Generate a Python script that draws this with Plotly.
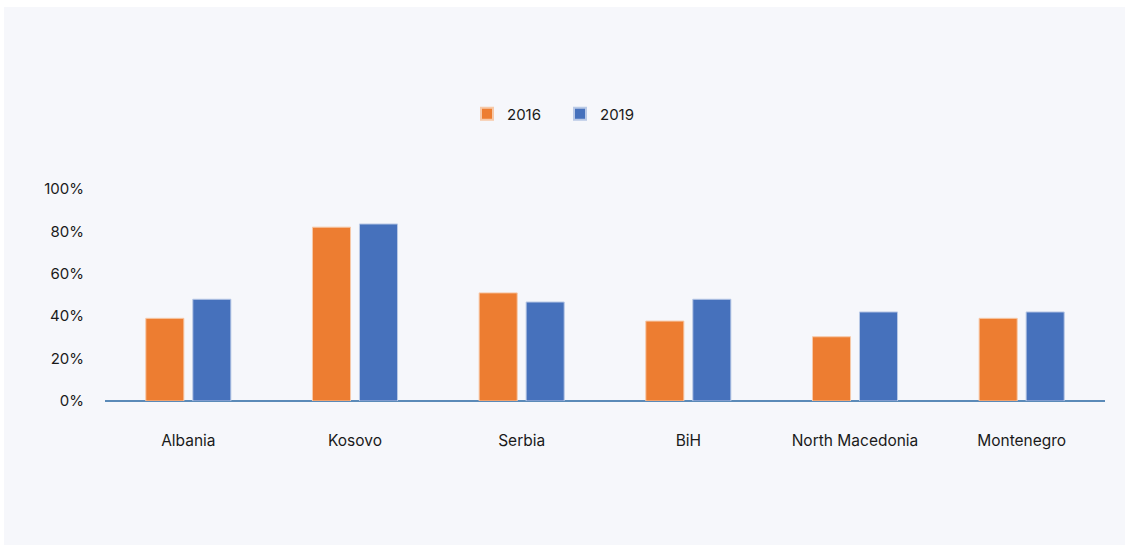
import plotly.graph_objects as go

categories = ["Albania", "Kosovo", "Serbia", "BiH", "North Macedonia", "Montenegro"]
values_2016 = [39, 82, 51, 37.7, 30.3, 39]
values_2019 = [48, 83.5, 46.7, 48, 42, 42]
y_ticks = [0, 20, 40, 60, 80, 100]
y_tick_labels = ["0%", "20%", "40%", "60%", "80%", "100%"]

W, H = 1126, 545
ml, mr, mt, mb = 105, 21, 189, 144
pw, ph = W - ml - mr, H - mt - mb

def px_x(p):
    return (p - ml) / pw

def px_y(p):
    return (H - mb - p) / ph

fig = go.Figure()
fig.add_trace(go.Bar(x=categories, y=values_2016, name="2016",
                     marker=dict(color="#ED7D31", line=dict(color="#f7c9a8", width=1))))
fig.add_trace(go.Bar(x=categories, y=values_2019, name="2019",
                     marker=dict(color="#4671BC", line=dict(color="#b9c9e6", width=1))))

fig.update_layout(
    width=W, height=H,
    margin=dict(l=ml, r=mr, t=mt, b=mb, pad=0),
    paper_bgcolor="white",
    plot_bgcolor="rgba(0,0,0,0)",
    barmode="group",
    bargap=0.436,
    bargroupgap=0.19,
    font=dict(family="Inter, Open Sans, sans-serif", size=15, color="#1a1a1a"),
    showlegend=True,
    legend=dict(orientation="h", x=px_x(467), xanchor="left", y=px_y(114), yanchor="middle",
                bgcolor="rgba(0,0,0,0)", font=dict(size=15), itemwidth=30,
                entrywidth=48, entrywidthmode="pixels",
                traceorder="normal", itemsizing="constant"),
    xaxis=dict(showgrid=False, zeroline=False, showline=False,
               ticks="", ticklabelstandoff=28, tickfont=dict(size=15.5)),
    yaxis=dict(range=[0, 100], tickvals=y_ticks, ticktext=y_tick_labels,
               showgrid=False, zeroline=True, zerolinecolor="#5b8ab8", zerolinewidth=2,
               showline=False, ticks="", ticklabelstandoff=20, tickfont=dict(size=15)),
    shapes=[dict(type="rect", xref="paper", yref="paper",
                 x0=px_x(4), x1=px_x(1125), y0=px_y(545), y1=px_y(7),
                 fillcolor="#f6f7fb", line=dict(width=0), layer="below")],
)

fig.write_html("out.html", config={"displayModeBar": False},
               post_script="document.body.style.margin='0';")
